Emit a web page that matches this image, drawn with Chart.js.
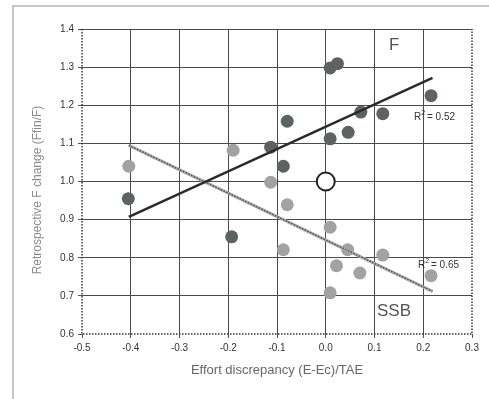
<!DOCTYPE html>
<html>
<head>
<meta charset="utf-8">
<script src="https://cdn.jsdelivr.net/npm/chart.js@4/dist/chart.umd.min.js"></script>
<style>
  html, body { margin: 0; padding: 0; background: #fff; }
  #wrap { width: 489px; height: 399px; position: relative; }
</style>
</head>
<body>
<div id="wrap"><canvas id="chart" width="489" height="399"></canvas></div>
<script>
// values
const fEffort   = [-0.405, -0.193, -0.113, -0.087, -0.079, 0.009, 0.024, 0.009, 0.046, 0.072, 0.117, 0.216];
const fChange   = [0.955, 0.855, 1.09, 1.04, 1.158, 1.298, 1.309, 1.112, 1.129, 1.182, 1.178, 1.225];
const ssbEffort = [-0.404, -0.19, -0.113, -0.079, -0.087, 0.009, 0.045, 0.022, 0.070, 0.117, 0.216, 0.009];
const ssbChange = [1.04, 1.082, 0.998, 0.939, 0.821, 0.880, 0.821, 0.779, 0.760, 0.807, 0.753, 0.708];
const refPoint  = [0.0, 1.0];
// trend line end points
const trendX   = [-0.404, 0.219];
const fTrend   = [0.907, 1.272];
const ssbTrend = [1.095, 0.712];

const xTicks = [-0.5, -0.4, -0.3, -0.2, -0.1, 0.0, 0.1, 0.2, 0.3];
const yTicks = [0.6, 0.7, 0.8, 0.9, 1.0, 1.1, 1.2, 1.3, 1.4];

const pts = (xs, ys) => xs.map((x, i) => ({ x: x, y: ys[i] }));
const FONT = 'Arial, "Liberation Sans", sans-serif';

// frame, dotted plot edges and text labels
const decor = {
  id: 'decor',
  beforeDraw(chart) {
    const c = chart.ctx;
    c.save();
    c.fillStyle = '#fff';
    c.fillRect(0, 0, chart.width, chart.height);
    c.strokeStyle = '#b5b5b5';
    c.lineWidth = 1.5;
    c.beginPath();
    c.moveTo(13, 399); c.lineTo(13, 6); c.lineTo(489, 6);
    c.stroke();
    c.restore();
  },
  afterDatasetsDraw(chart) {
    const c = chart.ctx;
    const a = chart.chartArea;
    c.save();
    c.strokeStyle = '#333';
    c.lineWidth = 1.5;
    c.setLineDash([1.5, 1.5]);
    c.beginPath();
    c.moveTo(a.left, a.top); c.lineTo(a.left, a.bottom); c.lineTo(a.right, a.bottom); c.lineTo(a.right, a.top);
    c.stroke();
    c.setLineDash([]);

    c.fillStyle = '#555';
    c.font = '17px ' + FONT;
    c.textBaseline = 'middle';
    c.fillText('F', 389, 45);
    c.fillText('SSB', 377, 311);

    c.fillStyle = '#333';
    const r2 = (x, y, val) => {
      c.font = '10px ' + FONT;
      c.fillText('R', x, y);
      const w = c.measureText('R').width;
      c.font = '7px ' + FONT;
      c.fillText('2', x + w, y - 4);
      c.font = '10px ' + FONT;
      c.fillText(' = ' + val, x + w + 3, y);
    };
    r2(414, 117, '0.52');
    r2(418, 265, '0.65');

    c.fillStyle = '#666';
    c.font = '13px ' + FONT;
    c.textAlign = 'center';
    c.fillText('Effort discrepancy (E-Ec)/TAE', 277, 370);

    c.translate(38, 190);
    c.rotate(-Math.PI / 2);
    c.fillStyle = '#8a8a8a';
    c.font = '12px ' + FONT;
    c.fillText('Retrospective F change (Ffin/F)', 0, 0);
    c.restore();
  }
};

new Chart(document.getElementById('chart'), {
  type: 'scatter',
  data: {
    datasets: [
      { type: 'line', data: pts(trendX, fTrend), borderColor: '#2b2b2b', borderWidth: 2.5,
        pointRadius: 0, fill: false },
      { type: 'line', data: pts(trendX, ssbTrend), borderColor: '#555', borderWidth: 1.5,
        borderDash: [1.5, 1.5], pointRadius: 0, fill: false },
      { type: 'line', data: pts(trendX, ssbTrend), borderColor: '#aaa', borderWidth: 3,
        pointRadius: 0, fill: false },
      { data: [{ x: refPoint[0], y: refPoint[1] }], pointRadius: 9, pointBackgroundColor: '#fff',
        pointBorderColor: '#222', pointBorderWidth: 2 },
      { data: pts(fEffort, fChange), pointRadius: 6.5, pointBackgroundColor: '#5d6362',
        pointBorderWidth: 0 },
      { data: pts(ssbEffort, ssbChange), pointRadius: 6.5, pointBackgroundColor: '#a2a2a2',
        pointBorderWidth: 0 }
    ]
  },
  options: {
    responsive: false,
    animation: false,
    layout: { padding: { left: 0, right: 17, top: 29, bottom: 0 } },
    plugins: { legend: { display: false }, tooltip: { enabled: false } },
    scales: {
      x: {
        type: 'linear', min: -0.5, max: 0.3,
        afterBuildTicks: s => { s.ticks = xTicks.map(v => ({ value: v })); },
        afterFit: s => { s.height = 65; },
        grid: {
          color: ctx => (ctx.tick && (ctx.tick.value === -0.5 || ctx.tick.value === 0.3)) ? 'rgba(0,0,0,0)' : '#4a4a4a',
          lineWidth: 1, tickLength: 4, tickColor: '#555'
        },
        border: { display: false },
        ticks: { color: '#333', font: { family: FONT, size: 10 }, padding: 4,
          callback: v => v.toFixed(1) }
      },
      y: {
        type: 'linear', min: 0.6, max: 1.4,
        afterBuildTicks: s => { s.ticks = yTicks.map(v => ({ value: v })); },
        afterFit: s => { s.width = 82; },
        grid: {
          color: ctx => (ctx.tick && ctx.tick.value === 0.6) ? 'rgba(0,0,0,0)' : '#4a4a4a',
          lineWidth: 1, tickLength: 4, tickColor: '#555'
        },
        border: { display: false },
        ticks: { color: '#333', font: { family: FONT, size: 10 }, padding: 4,
          callback: v => v.toFixed(1) }
      }
    }
  },
  plugins: [decor]
});
</script>
</body>
</html>
